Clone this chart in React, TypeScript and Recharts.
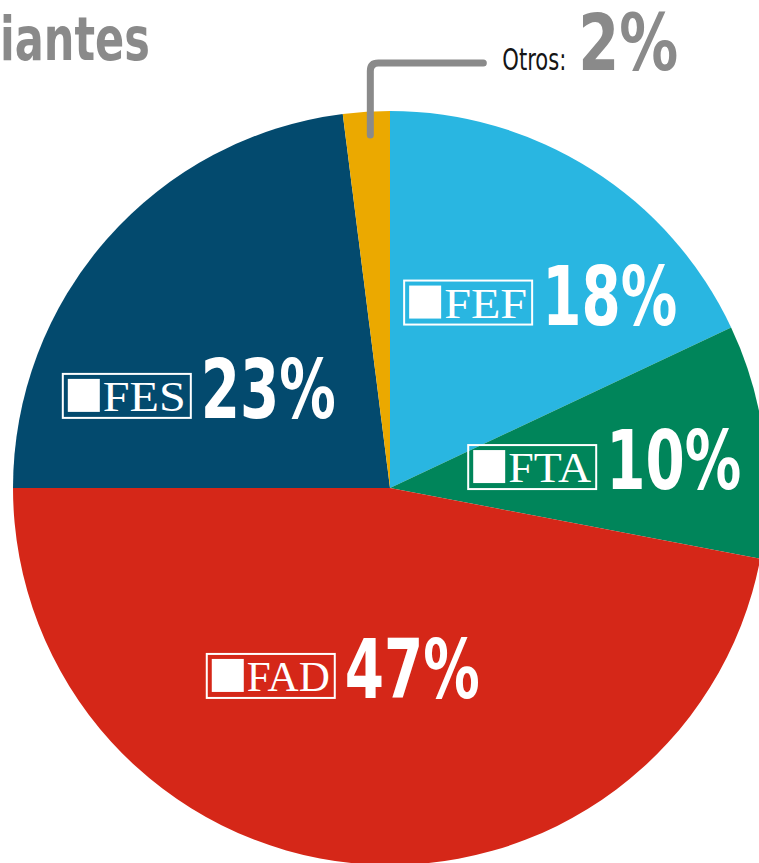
import { PieChart, Pie, Cell } from "recharts";

const categories = ["FEF", "FTA", "FAD", "FES", "Otros"];
const shares = [18, 10, 47, 23, 2];
const sliceColors = ["#29B6E1", "#00855A", "#D52718", "#034A6E", "#EBA900"];

// label placement: point on the mid angle at 57% of the radius, then nudged
const labelNudges = [
    { dx: 35, dy: -4 },
    { dx: 1, dy: 6 },
    { dx: -27, dy: -26 },
    { dx: -30, dy: 50 },
    { dx: 4, dy: 0 },
];

const data = categories.map((name, i) => ({ name, value: shares[i] }));

const RADIAN = Math.PI / 180;
const narrowBold = '"Liberation Sans Narrow", "DejaVu Sans Condensed", "Roboto", sans-serif';
const serif = '"Liberation Serif", "DejaVu Serif", serif';
const grey = "#8A8A8A";

const renderLabel = (props: any) => {
    const { cx, cy, midAngle, outerRadius, index, value } = props;
    const name = categories[index];
    const nudge = labelNudges[index];

    if (name === "Otros") {
        const x = cx + outerRadius * Math.cos(-midAngle * RADIAN) + nudge.dx;
        const top = cy - outerRadius;
        const yLine = top - 48;
        return (
            <g>
                <path
                    d={`M${x},${top + 24} L${x},${yLine + 8} Q${x},${yLine} ${x + 8},${yLine} L${x + 113},${yLine}`}
                    fill="none"
                    stroke={grey}
                    strokeWidth={7}
                    strokeLinecap="round"
                />
                <text
                    x={x + 132}
                    y={top - 41}
                    fill="#151515"
                    fontFamily={narrowBold}
                    fontSize={30}
                    textLength={64}
                    lengthAdjust="spacingAndGlyphs"
                >
                    {name}:
                </text>
                <text
                    x={x + 208}
                    y={top - 41}
                    fill={grey}
                    fontFamily={narrowBold}
                    fontWeight="bold"
                    fontSize={78}
                    textLength={100}
                    lengthAdjust="spacingAndGlyphs"
                >
                    {value}%
                </text>
            </g>
        );
    }

    const r = outerRadius * 0.57;
    const ax = cx + r * Math.cos(-midAngle * RADIAN) + nudge.dx;
    const ay = cy + r * Math.sin(-midAngle * RADIAN) + nudge.dy;

    return (
        <g>
            <rect x={ax - 136} y={ay - 22} width={128} height={44} fill="none" stroke="#fff" strokeWidth={2} />
            <rect x={ax - 131} y={ay - 17} width={32} height={33} fill="#fff" />
            <text
                x={ax - 96}
                y={ay + 15}
                fill="#fff"
                fontFamily={serif}
                fontSize={43}
                textLength={83}
                lengthAdjust="spacingAndGlyphs"
            >
                {name}
            </text>
            <text
                x={ax + 2}
                y={ay + 22}
                fill="#fff"
                fontFamily={narrowBold}
                fontWeight="bold"
                fontSize={82}
                textLength={135}
                lengthAdjust="spacingAndGlyphs"
            >
                {value}%
            </text>
        </g>
    );
};

export default function App() {
    return (
        <div style={{ position: "absolute", left: 0, top: 0, width: 759, height: 863, overflow: "hidden", background: "#fff" }}>
            <svg width={759} height={100} style={{ position: "absolute", left: 0, top: 0 }}>
                <text
                    x={0}
                    y={60}
                    fill={grey}
                    fontFamily={narrowBold}
                    fontWeight="bold"
                    fontSize={60}
                    textLength={150}
                    lengthAdjust="spacingAndGlyphs"
                >
                    iantes
                </text>
            </svg>
            <PieChart width={759} height={863} margin={{ top: 0, right: 0, bottom: 0, left: 0 }} style={{ position: "absolute", left: 0, top: 0 }}>
                <Pie
                    data={data}
                    dataKey="value"
                    nameKey="name"
                    cx={390}
                    cy={488}
                    outerRadius={377}
                    startAngle={90}
                    endAngle={-270}
                    stroke="none"
                    labelLine={false}
                    label={renderLabel}
                    isAnimationActive={false}
                >
                    {data.map((d, i) => (
                        <Cell key={d.name} fill={sliceColors[i]} />
                    ))}
                </Pie>
            </PieChart>
        </div>
    );
}
